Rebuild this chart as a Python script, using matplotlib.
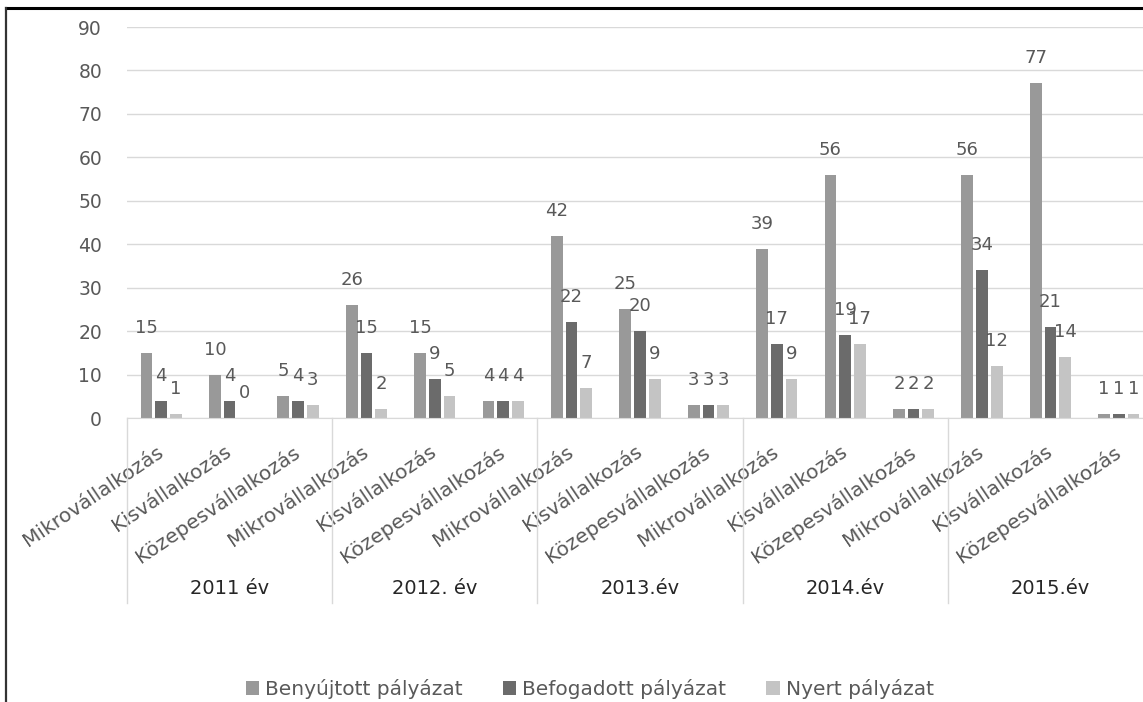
import matplotlib

matplotlib.use("Agg")
import matplotlib.pyplot as plt
from matplotlib.lines import Line2D
from matplotlib.patches import Patch
import numpy as np

plt.rcParams["font.family"] = ["DejaVu Sans"]

years = ["2011 év", "2012. év", "2013.év", "2014.év", "2015.év"]
sizes = ["Mikrovállalkozás", "Kisvállalkozás", "Közepesvállalkozás"]
series_names = ["Benyújtott pályázat", "Befogadott pályázat", "Nyert pályázat"]

benyujtott = [15, 10, 5, 26, 15, 4, 42, 25, 3, 39, 56, 2, 56, 77, 1]
befogadott = [4, 4, 4, 15, 9, 4, 22, 20, 3, 17, 19, 2, 34, 21, 1]
nyert = [1, 0, 3, 2, 5, 4, 7, 9, 3, 9, 17, 2, 12, 14, 1]

colors = ["#999999", "#6b6b6b", "#c4c4c4"]
text_grey = "#595959"
line_grey = "#d9d9d9"
fs = 13

W, H = 1143, 702
fig = plt.figure(figsize=(W / 100, H / 100), dpi=100)

# plot area in pixels: left 127, bottom 418 (value 0), top 27 (value 90)
x0, y0, ytop = 127, 418, 27
ncat = len(years) * len(sizes)
catw = 68.4
ax = fig.add_axes([x0 / W, (H - y0) / H, ncat * catw / W, (y0 - ytop) / H])

x = np.arange(ncat)
width = 0.17
step = 0.215
for i, vals in enumerate([benyujtott, befogadott, nyert]):
    pos = x + (i - 1) * step
    ax.bar(pos, vals, width=width, color=colors[i], zorder=2)
    for px, v in zip(pos, vals):
        ax.annotate(str(v), (px, v), xytext=(0, 25), textcoords="offset pixels",
                    ha="center", va="center", fontsize=fs, color=text_grey, zorder=3)

ax.set_xlim(-0.5, ncat - 0.5)
ax.set_ylim(0, 90)
ax.set_yticks(range(0, 91, 10))
ax.yaxis.grid(True, color=line_grey, linewidth=1)
ax.set_axisbelow(True)
ax.tick_params(axis="y", length=0, pad=18, labelsize=13.5, labelcolor=text_grey)
ax.set_xticks([])
for s in ["left", "right", "top"]:
    ax.spines[s].set_visible(False)
ax.spines["bottom"].set_color(line_grey)

# rotated category labels under each bar group
trans = ax.get_xaxis_transform()
for k in range(ncat):
    ax.annotate(sizes[k % 3], (k, 0), xycoords=trans, xytext=(0, -32),
                textcoords="offset pixels", rotation=34, rotation_mode="anchor",
                ha="right", va="center", fontsize=14.5, color=text_grey,
                annotation_clip=False)

# year labels and separators
for j, yr in enumerate(years):
    cx = 3 * j + 1
    ax.annotate(yr, (cx, 0), xycoords=trans, xytext=(0, -170),
                textcoords="offset pixels", ha="center", va="center",
                fontsize=14, color="#262626", annotation_clip=False)
for j in range(len(years) + 1):
    xs = (x0 + j * 3 * catw) / W
    fig.add_artist(Line2D([xs, xs], [(H - y0) / H, (H - 603) / H],
                          color=line_grey, linewidth=1))

# chart border
fig.add_artist(Line2D([6 / W, 1], [(H - 8) / H, (H - 8) / H], color="black", linewidth=2.2))
fig.add_artist(Line2D([6 / W, 6 / W], [(H - 8) / H, 0], color="#333333", linewidth=1.6))

handles = [Patch(facecolor=c, edgecolor="none") for c in colors]
fig.legend(handles, series_names, loc="center", bbox_to_anchor=(0.516, (H - 689) / H),
           ncol=3, frameon=False, fontsize=14.5, labelcolor=text_grey,
           handlelength=0.65, handleheight=0.65, handletextpad=0.3, columnspacing=2.0)

fig.savefig("out.png", dpi=100)
